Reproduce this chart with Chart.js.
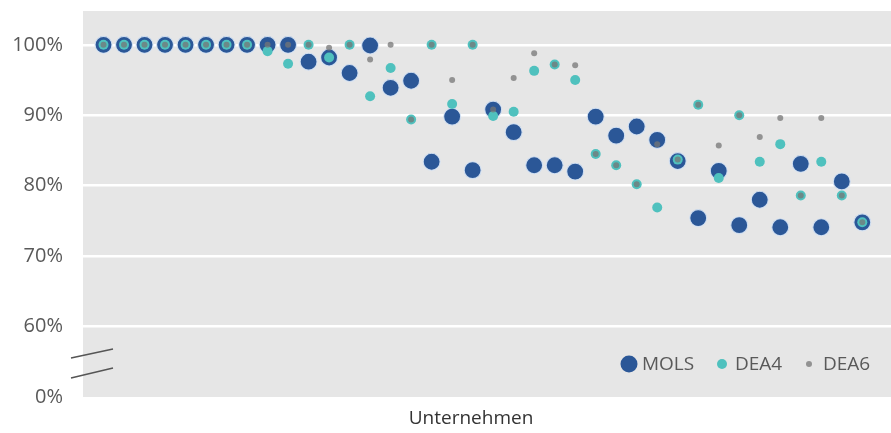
<!DOCTYPE html>
<html lang="de">
<head>
    <meta charset="UTF-8">
    <title>MOLS / DEA4 / DEA6</title>
    <script src="https://cdn.jsdelivr.net/npm/chart.js"></script>
    <style>
        html, body { margin: 0; padding: 0; background: #fff; }
        #wrap { width: 891px; height: 433px; }
    </style>
</head>
<body>
<div id="wrap"><canvas id="effChart" width="891" height="433"></canvas></div>

<script>
    // companies (x positions, no labels shown on the axis)
    const companies = [1, 2, 3, 4, 5, 6, 7, 8, 9, 10, 11, 12, 13, 14, 15, 16, 17, 18, 19,
        20, 21, 22, 23, 24, 25, 26, 27, 28, 29, 30, 31, 32, 33, 34, 35, 36, 37, 38];

    // efficiency scores in %
    const mols = [100, 100, 100, 100, 100, 100, 100, 100, 100, 100, 97.6, 98.2, 96.0, 99.9, 93.9, 94.9,
        83.4, 89.8, 82.2, 90.8, 87.6, 82.9, 82.9, 82.0, 89.8, 87.1, 88.4, 86.5, 83.5, 75.4,
        82.1, 74.4, 78.0, 74.1, 83.1, 74.1, 80.6, 74.8];
    const dea4 = [100, 100, 100, 100, 100, 100, 100, 100, 99.1, 97.3, 100, 98.2, 100, 92.7, 96.7, 89.4,
        100, 91.6, 100, 89.9, 90.5, 96.3, 97.2, 95.0, 84.5, 82.9, 80.2, 76.9, 83.7, 91.5,
        81.1, 90.0, 83.4, 85.9, 78.6, 83.4, 78.6, 74.8];
    const dea6 = [100, 100, 100, 100, 100, 100, 100, 100, 100, 100, 100, 99.6, 100, 97.9, 100, 89.4,
        100, 95.0, 100, 90.8, 95.3, 98.8, 97.2, 97.1, 84.5, 82.9, 80.2, 85.9, 83.7, 91.5,
        85.7, 90.0, 86.9, 89.6, 78.6, 89.6, 78.6, 74.8];

    // y ticks: the axis is broken, 0% sits one step below 60%
    const yTicks = [50, 60, 70, 80, 90, 100];
    const yTickLabels = ['0%', '60%', '70%', '80%', '90%', '100%'];
    const xTitle = 'Unternehmen';

    const FONT = '"Open Sans", sans-serif';
    const TXT = '#595959';

    const pts = (vals) => vals.map((v, i) => ({ x: companies[i], y: v }));

    // gray plot background, axis break marks, x title and legend
    const decor = {
        id: 'decor',
        beforeDraw(chart) {
            const { ctx, chartArea: a } = chart;
            ctx.save();
            ctx.fillStyle = '#e6e6e6';
            ctx.fillRect(a.left, a.top, a.right - a.left, a.bottom - a.top);
            ctx.restore();
        },
        afterDraw(chart) {
            const { ctx } = chart;
            ctx.save();
            // break marks
            ctx.strokeStyle = '#555';
            ctx.lineWidth = 1.5;
            ctx.beginPath();
            ctx.moveTo(71, 358); ctx.lineTo(113, 349);
            ctx.moveTo(71, 378); ctx.lineTo(113, 368);
            ctx.stroke();

            // x axis title
            ctx.fillStyle = '#333';
            ctx.font = '19px ' + FONT;
            ctx.textAlign = 'center';
            ctx.textBaseline = 'middle';
            ctx.fillText(xTitle, 471, 419);

            // legend inside plot, bottom right
            const items = [
                { ds: chart.data.datasets[0], x: 629, tx: 642 },
                { ds: chart.data.datasets[1], x: 722, tx: 735 },
                { ds: chart.data.datasets[2], x: 809, tx: 823 }
            ];
            ctx.font = '19px ' + FONT;
            ctx.textAlign = 'left';
            items.forEach(it => {
                ctx.beginPath();
                ctx.fillStyle = it.ds.backgroundColor;
                ctx.arc(it.x, 364, it.ds.pointRadius, 0, Math.PI * 2);
                ctx.fill();
                ctx.fillStyle = TXT;
                ctx.fillText(it.ds.label, it.tx, 365);
            });
            ctx.restore();
        }
    };

    const ctx = document.getElementById('effChart').getContext('2d');
    const effChart = new Chart(ctx, {
        type: 'scatter',
        data: {
            datasets: [{
                label: 'MOLS',
                data: pts(mols),
                backgroundColor: '#2b5797',
                borderColor: 'rgba(215,228,245,0.9)',
                borderWidth: 1.2,
                pointRadius: 8.5,
                order: 3
            }, {
                label: 'DEA4',
                data: pts(dea4),
                backgroundColor: '#4fc1be',
                borderWidth: 0,
                pointRadius: 5,
                order: 2
            }, {
                label: 'DEA6',
                data: pts(dea6),
                backgroundColor: 'rgba(118,118,118,0.75)',
                borderWidth: 0,
                pointRadius: 3,
                order: 1
            }]
        },
        options: {
            responsive: false,
            animation: false,
            layout: { autoPadding: false, padding: { top: 11, right: 0, bottom: 36, left: 0 } },
            plugins: {
                legend: { display: false },
                tooltip: { enabled: false }
            },
            scales: {
                x: {
                    type: 'linear',
                    min: 0,
                    max: 39.4,
                    display: false
                },
                y: {
                    min: 50,
                    max: 104.8,
                    afterFit: (s) => { s.width = 83; s.paddingTop = 0; s.paddingBottom = 0; },
                    afterBuildTicks: (s) => { s.ticks = yTicks.map(v => ({ value: v })); },
                    border: { display: false },
                    grid: {
                        drawTicks: false,
                        lineWidth: 2.5,
                        color: (c) => (c.tick && c.tick.value === 50) ? 'rgba(0,0,0,0)' : '#ffffff'
                    },
                    ticks: {
                        padding: 20,
                        color: TXT,
                        font: { family: FONT, size: 20 },
                        callback: (v) => yTickLabels[yTicks.indexOf(v)]
                    }
                }
            }
        },
        plugins: [decor]
    });
</script>
</body>
</html>
